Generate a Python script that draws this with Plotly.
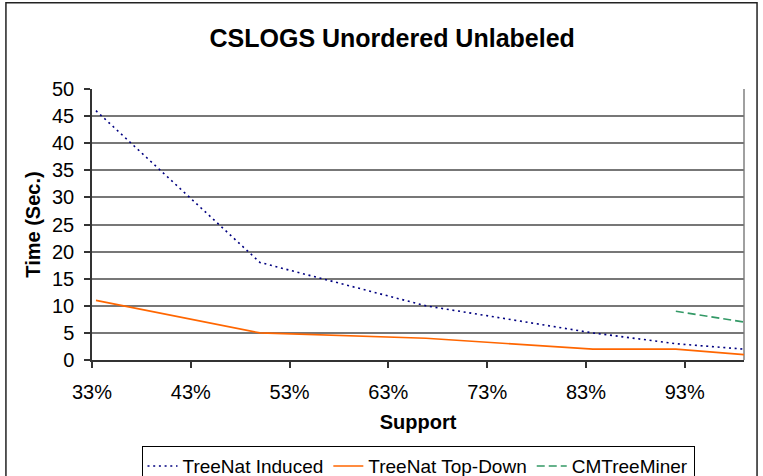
import plotly.graph_objects as go

# Support thresholds (fraction) and run times in seconds
support = [0.334, 0.50, 0.668, 0.837, 0.921, 0.99]
treenat_induced = [46, 18, 10, 5, 3, 2]
treenat_topdown = [11, 5, 4, 2, 2, 1]
cm_support = [0.921, 0.99]
cmtreeminer = [9, 7]

x_ticks = [0.33, 0.43, 0.53, 0.63, 0.73, 0.83, 0.93]
y_ticks = list(range(0, 55, 5))

FONT = "Liberation Sans, Arial, sans-serif"

fig = go.Figure()
fig.add_trace(go.Scatter(
    x=support, y=treenat_induced, mode="lines", name="TreeNat Induced",
    line=dict(color="#000080", width=1.6, dash="2px,3.7px"),
))
fig.add_trace(go.Scatter(
    x=support, y=treenat_topdown, mode="lines", name="TreeNat Top-Down",
    line=dict(color="#FF6600", width=1.6),
))
fig.add_trace(go.Scatter(
    x=cm_support, y=cmtreeminer, mode="lines", name="CMTreeMiner",
    line=dict(color="#339966", width=1.6, dash="8px,4px"),
))

# plot-area border on the right, outer chart frame
fig.add_shape(type="line", xref="paper", yref="paper", x0=1, x1=1, y0=0, y1=1,
              line=dict(color="#808080", width=1.5), layer="below")
fig.add_shape(type="rect", xref="paper", yref="paper",
              x0=-0.132, x1=1.02, y0=-0.45, y1=1.318,
              line=dict(color="#222222", width=1.5))

fig.update_layout(
    width=763, height=476,
    margin=dict(l=92, r=19, t=89, b=116, autoexpand=False),
    paper_bgcolor="white", plot_bgcolor="white",
    font=dict(family=FONT, size=20, color="black"),
    title=dict(text="<b>CSLOGS Unordered Unlabeled</b>", x=0.514, xanchor="center",
               y=1 - 38 / 476, yanchor="middle", yref="container",
               font=dict(family=FONT, size=25, color="black")),
    showlegend=True,
    legend=dict(orientation="h", x=0.5, xanchor="center", y=-0.318, yanchor="top",
                bordercolor="black", borderwidth=1, bgcolor="white",
                font=dict(family=FONT, size=19, color="black"),
                itemwidth=30, tracegroupgap=0),
    xaxis=dict(
        range=[0.33, 0.99], tickmode="array", tickvals=x_ticks, tickformat=".0%",
        showgrid=False, zeroline=False,
        showline=True, linecolor="#333333", linewidth=1.5,
        ticks="outside", ticklen=6, tickcolor="#333333", tickwidth=1.5,
        ticklabelstandoff=7,
        title=dict(text="<b>Support</b>", font=dict(family=FONT, size=20), standoff=13),
    ),
    yaxis=dict(
        range=[0, 50], tickmode="array", tickvals=y_ticks,
        showgrid=True, gridcolor="#777777", gridwidth=1.5, zeroline=False,
        showline=True, linecolor="#333333", linewidth=1.5,
        ticks="outside", ticklen=6, tickcolor="#333333", tickwidth=1.5,
        ticklabelstandoff=6,
        title=dict(text="<b>Time (Sec.)</b>", font=dict(family=FONT, size=20), standoff=6),
    ),
)

fig.write_html("out.html")
